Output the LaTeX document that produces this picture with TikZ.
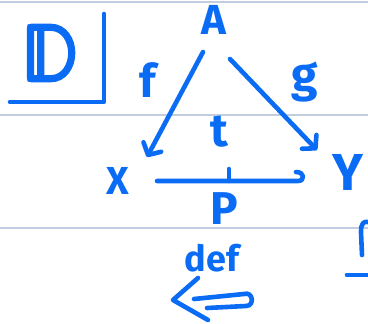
\documentclass[tikz,border=0pt]{standalone}
\usepackage{fontspec}
\setmainfont{Fira Sans}
\newfontfamily\bbfont{latinmodern-math.otf}[AutoFakeBold=5]
\usetikzlibrary{arrows.meta,calc}
\definecolor{ink}{HTML}{0A6CF5}
\definecolor{rulecol}{HTML}{C3CDE0}
\begin{document}
\begin{tikzpicture}[x=1pt,y=-1pt,
  pen/.style={draw=ink,line width=4.6pt,line cap=round,line join=round},
  barb/.style={-{Straight Barb[length=9pt,width=20pt,line cap=round,line join=round]}},
  lbl/.style={text=ink,inner sep=0pt,font=\fontsize{#1}{#1}\selectfont\bfseries},
  ruling/.style={draw=rulecol,line width=1.5pt}]
\useasboundingbox (0,0) rectangle (368,324);
\clip (0,0) rectangle (368,324);
% ruled lines
\draw[ruling] (0,2) -- (368,2);
\draw[ruling] (0,115) -- (368,115);
\draw[ruling] (0,228) -- (368,228);
% boxed D
\node[text=ink,inner sep=0pt,font=\fontsize{80}{80}\selectfont\bbfont\bfseries] (D) at (50,53) {𝔻};
\draw[pen] (104,14) -- (104,102) -- (10,102);
% partial box at right edge
\draw[pen] (362,255) -- (361,232) .. controls (361,223) and (364,221) .. (368,222);
\draw[pen] (347,275) -- (368,275);
% objects
\node[lbl=42] (A) at (214,20) {A};
\node[lbl=39] (X) at (118,181) {X};
\node[lbl=52] (Y) at (348,172) {Y};
\node[lbl=46] (f) at (148,80) {f};
\node[lbl=48] (g) at (305,82) {g};
\node[lbl=46] (t) at (219,132) {t};
\node[lbl=46] (P) at (224,209) {P};
\node[lbl=36] (def) at (212,258) {def};
% arrows
\draw[pen,barb] ([shift={(-11,32)}]A.center) -- ([shift={(29,-24)}]X.center);
\draw[pen,barb] ([shift={(16,39)}]A.center) -- ([shift={(-31,-22)}]Y.center);
\draw[pen] ([shift={(39,0)}]X.center) -- ([shift={(-50,9)}]Y.center)
  .. controls ([shift={(-43,9)}]Y.center) and ([shift={(-43,0)}]Y.center) .. ([shift={(-52,0)}]Y.center);
\coordinate (m) at ($([shift={(39,0)}]X.center)!0.51!([shift={(-50,9)}]Y.center)$);
\draw[pen] (m) -- ++(0,-12);
% double arrow under def
\draw[pen] (198,278) -- (173,300) -- (208,320);
\draw[pen] (194,299) -- (244,294) .. controls (253,291) and (255,306) .. (246,306) -- (207,308);
\end{tikzpicture}
\end{document}
